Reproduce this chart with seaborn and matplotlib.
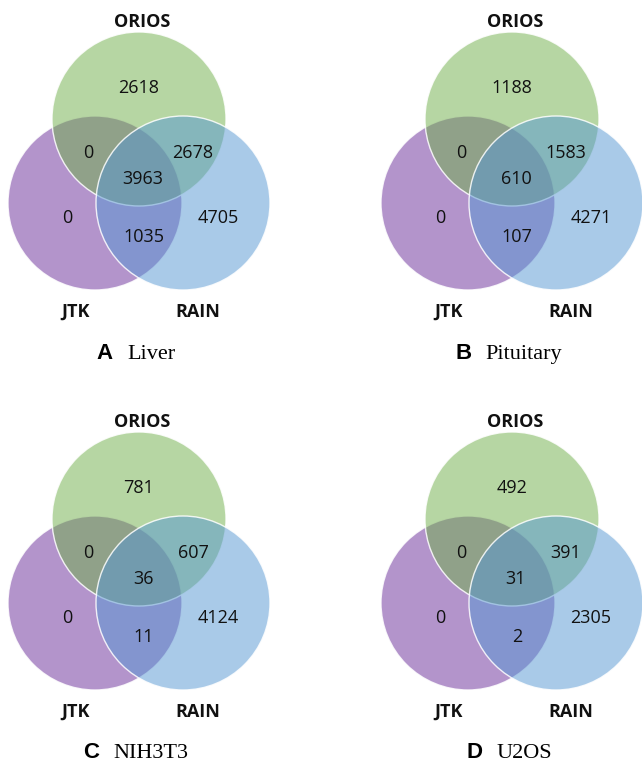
import matplotlib
matplotlib.use("Agg")
import matplotlib.pyplot as plt
from matplotlib.patches import Circle
from matplotlib.offsetbox import TextArea, HPacker, AnnotationBbox
import seaborn as sns

# ---- data -----------------------------------------------------------------
panel_letters = ["A", "B", "C", "D"]
panel_names = ["Liver", "Pituitary", "NIH3T3", "U2OS"]
set_names = ["ORIOS", "JTK", "RAIN"]

# region counts per panel
orios_only = [2618, 1188, 781, 492]
jtk_only = [0, 0, 0, 0]
rain_only = [4705, 4271, 4124, 2305]
orios_jtk = [0, 0, 0, 0]
orios_rain = [2678, 1583, 607, 391]
jtk_rain = [1035, 107, 11, 2]
all_three = [3963, 610, 36, 31]

# ---- style ----------------------------------------------------------------
sns.set_theme(style="white")
plt.rcParams["font.family"] = ["Open Sans", "DejaVu Sans"]

# base colours of the sets (drawn semi-transparent: JTK, ORIOS, RAIN)
palette = sns.color_palette(["#6faf49", "#692b99", "#5597d3"])
set_colour = dict(zip(set_names, palette))
draw_order = ["JTK", "ORIOS", "RAIN"]

# ---- layout (pixel units inside one panel) --------------------------------
radius = 87
centres = {"ORIOS": (139, 119), "JTK": (95, 203), "RAIN": (183, 203)}
set_label_pos = {"ORIOS": (142, 22), "JTK": (76, 312), "RAIN": (198, 312)}
region_pos = {
    "orios_only": (139, 88),
    "orios_jtk": (88, 153),
    "orios_rain": (193, 153),
    "all_three": (143, 179),
    "jtk_only": (67, 218),
    "rain_only": (218, 218),
    "jtk_rain": (144, 237),
}
caption_pos = (136, 353)
panel_offsets = [(0, 0), (373, 0), (0, 400), (373, 400)]

fig = plt.figure(figsize=(6.42, 7.65), dpi=100)
ax = fig.add_axes([0, 0, 1, 1])
ax.set_xlim(0, 642)
ax.set_ylim(765, 0)
ax.set_axis_off()

for i, (ox, oy) in enumerate(panel_offsets):
    for name in draw_order:
        cx, cy = centres[name]
        r, g, b = set_colour[name]
        ax.add_patch(Circle((ox + cx, oy + cy), radius,
                            facecolor=(r, g, b, 0.5),
                            edgecolor=(1, 1, 1, 0.85), linewidth=1.0,
                            zorder=2))

    counts = {
        "orios_only": orios_only[i],
        "jtk_only": jtk_only[i],
        "rain_only": rain_only[i],
        "orios_jtk": orios_jtk[i],
        "orios_rain": orios_rain[i],
        "jtk_rain": jtk_rain[i],
        "all_three": all_three[i],
    }
    for key, value in counts.items():
        x, y = region_pos[key]
        ax.text(ox + x, oy + y, f"{value}", ha="center", va="center",
                fontsize=13, color="#111111", zorder=3)

    for name in set_names:
        x, y = set_label_pos[name]
        ax.text(ox + x, oy + y, name, ha="center", va="center",
                fontsize=13, fontweight="bold", color="#111111", zorder=3)

    letter = TextArea(panel_letters[i],
                      textprops=dict(family="Liberation Sans", fontweight="bold",
                                     fontsize=16, color="black"))
    tissue = TextArea(panel_names[i],
                      textprops=dict(family="Liberation Serif", fontsize=16,
                                     color="black"))
    box = HPacker(children=[letter, tissue], align="baseline", pad=0, sep=10)
    cx, cy = caption_pos
    ax.add_artist(AnnotationBbox(box, (ox + cx, oy + cy), xycoords="data",
                                 box_alignment=(0.5, 0.5), frameon=False,
                                 zorder=3))

fig.savefig("out.png", dpi=100)
